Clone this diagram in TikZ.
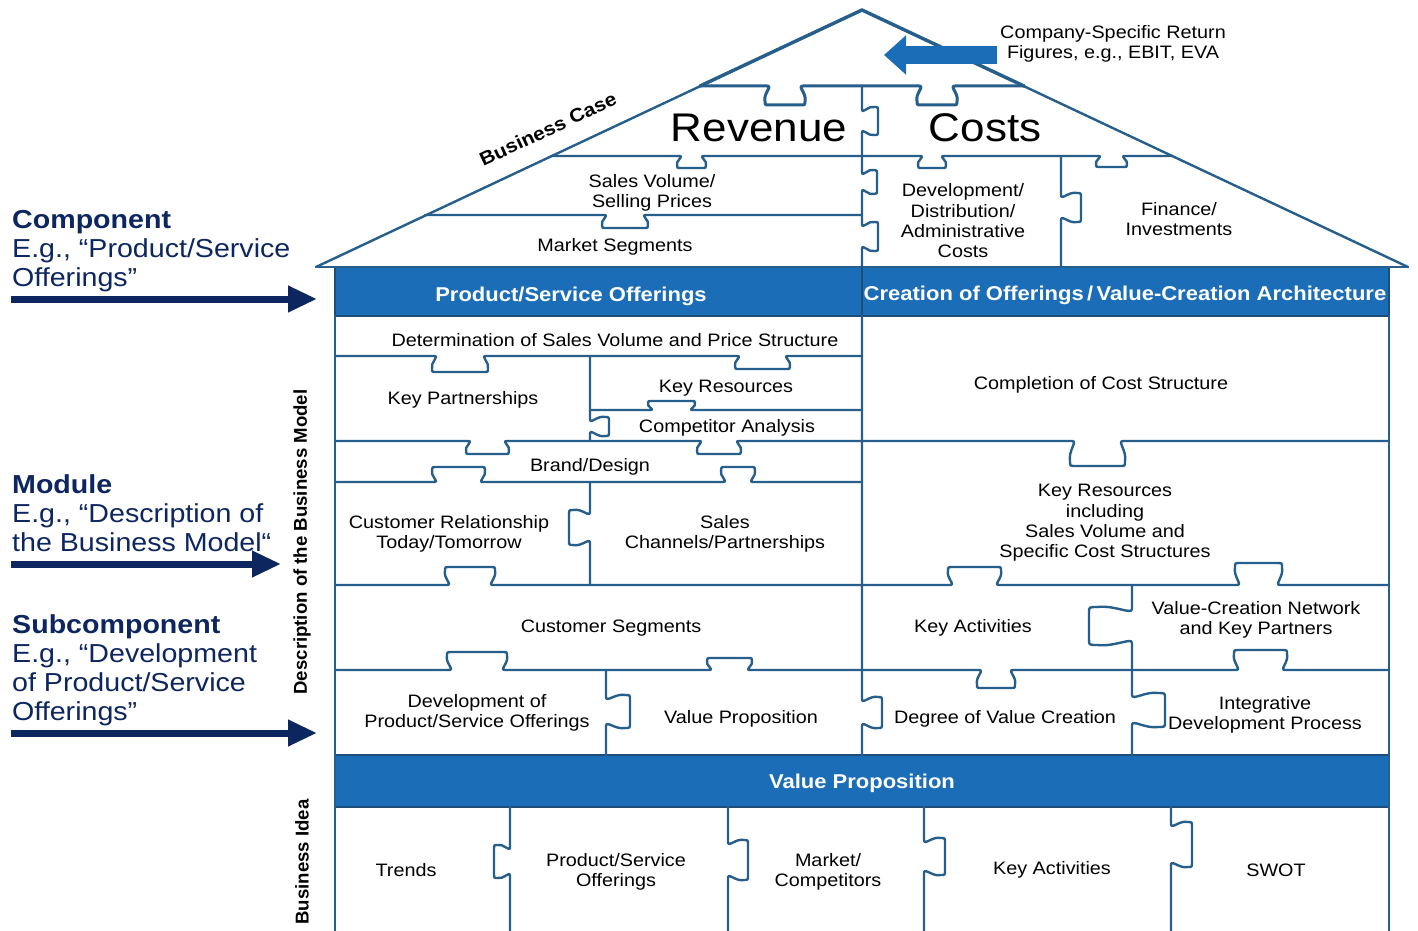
\documentclass[tikz,border=0pt]{standalone}
\usepackage{fontspec}
\setmainfont{Liberation Sans}[FakeStretch=1.1]
\newfontfamily\rotfont{Liberation Sans}
\usetikzlibrary{arrows.meta}
\definecolor{lineblue}{RGB}{38,94,140}
\definecolor{bandblue}{RGB}{26,109,182}
\definecolor{bandedge}{RGB}{30,78,120}
\definecolor{navy}{RGB}{13,38,96}
\newcommand\fN{\fontsize{18}{20.3}\selectfont}
\newcommand\fB{\fontsize{20}{22}\selectfont\bfseries}
\newcommand\fL{\fontsize{26}{29}\selectfont}
\newcommand\fH{\fontsize{40}{44}\selectfont}
% horizontal knob: from x=#1 to x=#2 on line y=#3, depth #4 (+ = down)
\newcommand\kh[4]{%
 -- ({#1+2},{#3})
 .. controls ({#1+8},{#3}) and ({#1-2},{#3+0.4*(#4)}) .. ({#1},{#3+0.8*(#4)})
 .. controls ({#1},{#3+(#4)}) .. ({#1+5},{#3+(#4)})
 -- ({#2-5},{#3+(#4)})
 .. controls ({#2},{#3+(#4)}) .. ({#2},{#3+0.8*(#4)})
 .. controls ({#2+2},{#3+0.4*(#4)}) and ({#2-8},{#3}) .. ({#2-2},{#3})}
% vertical knob: from y=#1 to y=#2 on line x=#3, extent #4 (+ = right)
\newcommand\kv[4]{%
 -- ({#3},{#1+2})
 .. controls ({#3},{#1+8}) and ({#3+0.4*(#4)},{#1-2}) .. ({#3+0.8*(#4)},{#1})
 .. controls ({#3+(#4)},{#1}) .. ({#3+(#4)},{#1+5})
 -- ({#3+(#4)},{#2-5})
 .. controls ({#3+(#4)},{#2}) .. ({#3+0.8*(#4)},{#2})
 .. controls ({#3+0.4*(#4)},{#2+2}) and ({#3},{#2-8}) .. ({#3},{#2-2})}
\begin{document}
\begin{tikzpicture}[x=1pt,y=-1pt,
  grid/.style={draw=lineblue, line width=2.4pt, line join=round, line cap=round},
  band/.style={fill=bandblue, draw=bandedge, line width=2pt},
  txt/.style={font=\fN, align=center, inner sep=0pt, text=black, yshift=-2pt},
  btxt/.style={font=\fB, text=white, inner sep=0pt, yshift=-2pt},
  lab/.style={font=\fL, text=navy, anchor=base west, inner sep=0pt},
  navyarrow/.style={draw=navy, line width=7pt, -{Triangle[length=29pt,width=25pt]}},
  bigarrow/.style={draw=bandblue, line width=18pt, -{Triangle[length=22pt,width=38pt]}}]
\useasboundingbox (0,0) rectangle (1418,931);
\fill[white] (0,0) rectangle (1418,931);

% bands
\path[band] (335,267) rectangle (1389,316);
\path[band] (335,755) rectangle (1389,807);

% roof
\draw[grid] (316,267) -- (862,10) -- (1408,267);
\draw[grid] (316,267) -- (1408,267);
\draw[grid, line width=3.4pt] (700,86) -- (862,10) -- (1024,86);
\draw[grid, line width=3pt] (700,86) \kh{765}{805}{86}{19} \kh{917}{957}{86}{19} -- (1024,86);
\draw[grid] (551,156) \kh{677}{706}{156}{12} \kh{918}{946}{156}{12} \kh{1096}{1127}{156}{11} -- (1173,156);
\draw[grid] (425,215) \kh{602}{648}{215}{13} -- (862,215);
\draw[grid] (1061,156) \kv{193}{222}{1061}{20} -- (1061,267);
\draw[grid] (862,86) \kv{107}{135}{862}{16} \kv{170}{194}{862}{15} \kv{222}{251}{862}{16} -- (862,267);

% band divider
\draw[grid, draw=bandedge] (862,267) -- (862,316);

% frame
\draw[grid] (335,316) -- (335,931);
\draw[grid] (1389,316) -- (1389,931);
\draw[grid] (862,316) \kv{697}{728}{862}{20} -- (862,755);

% left section
\draw[grid] (335,356) \kh{432}{488}{356}{16} \kh{735}{790}{356}{13} -- (862,356);
\draw[grid] (590,356) \kv{417}{436}{590}{19} -- (590,441);
\draw[grid] (590,410) \kh{648}{695}{410}{-9} -- (862,410);
\draw[grid] (335,441) \kh{466}{509}{441}{13} \kh{697}{741}{441}{13} -- (862,441) \kh{1070}{1125}{441}{25} -- (1389,441);
\draw[grid] (335,482) \kh{432}{485}{482}{-15} \kh{721}{755}{482}{-15} -- (862,482);
\draw[grid] (590,482) \kv{510}{545}{590}{-21} -- (590,585);
\draw[grid] (335,585) \kh{445}{495}{585}{-18} -- (862,585) \kh{948}{1001}{585}{-18} \kh{1235}{1282}{585}{-22} -- (1389,585);
\draw[grid] (335,670) \kh{447}{507}{670}{-18} \kh{707}{752}{670}{-12} -- (862,670) \kh{977}{1015}{670}{18} \kh{1234}{1287}{670}{-20} -- (1389,670);
\draw[grid] (606,670) \kv{695}{728}{606}{24} -- (606,755);
\draw[grid] (1132,585) \kv{607}{645}{1132}{-43} \kv{693}{727}{1132}{33} -- (1132,755);

% bottom section
\draw[grid] (510,807) \kv{845}{878}{510}{-16} -- (510,931);
\draw[grid] (728,807) \kv{840}{880}{728}{20} -- (728,931);
\draw[grid] (924,807) \kv{838}{875}{924}{21} -- (924,931);
\draw[grid] (1171,807) \kv{822}{867}{1171}{21} -- (1171,931);

% top arrow
\coordinate (ba1) at (997,55);
\coordinate (ba2) at (884,55);
\draw[bigarrow] (ba1) -- (ba2);
\node[txt] (csr) at (1113,42) {Company-Specific Return\\Figures, e.g., EBIT, EVA};

% roof texts
\node[inner sep=0pt, font={\fontsize{19}{21}\selectfont\bfseries}, rotate=25] (bc) at (548,129) {Business Case};
\node[txt, font=\fH] (rev) at (759,126) {Revenue};
\node[txt, font=\fH] (cst) at (985,126) {Costs};
\node[txt] (svsp) at (652,191) {Sales Volume/\\Selling Prices};
\node[txt] (ms) at (615,245) {Market Segments};
\node[txt] (dda) at (963,219) {Development/\\Distribution/\\Administrative\\Costs};
\node[txt] (fi) at (1179,217) {Finance/\\Investments};

% band texts
\node[btxt] (pso) at (571,294) {Product/Service Offerings};
\node[btxt] (coa) at (1125,293) {Creation of Offerings\,/\,Value-Creation Architecture};
\node[btxt] (vpb) at (862,781) {Value Proposition};

% left section texts
\node[txt] (dsv) at (615,338) {Determination of Sales Volume and Price Structure};
\node[txt] (kp) at (463,398) {Key Partnerships};
\node[txt] (kr) at (726,386) {Key Resources};
\node[txt] (ca) at (727,426) {Competitor Analysis};
\node[txt] (bd) at (590,465) {Brand/Design};
\node[txt] (crt) at (449,532) {Customer Relationship\\Today/Tomorrow};
\node[txt] (scp) at (725,532) {Sales\\Channels/Partnerships};
\node[txt] (cs) at (611,626) {Customer Segments};
\node[txt] (dpso) at (477,711) {Development of\\Product/Service Offerings};
\node[txt] (vp) at (741,717) {Value Proposition};

% right section texts
\node[txt] (ccs) at (1101,383) {Completion of Cost Structure};
\node[txt] (kri) at (1105,521) {Key Resources\\including\\Sales Volume and\\Specific Cost Structures};
\node[txt] (ka) at (973,626) {Key Activities};
\node[txt] (vcn) at (1256,618) {Value-Creation Network\\and Key Partners};
\node[txt] (dvc) at (1005,717) {Degree of Value Creation};
\node[txt] (idp) at (1265,713) {Integrative\\Development Process};

% bottom texts
\node[txt] (tr) at (406,868) {Trends};
\node[txt] (psob) at (616,870) {Product/Service\\Offerings};
\node[txt] (mc) at (828,870) {Market/\\Competitors};
\node[txt] (kab) at (1052,868) {Key Activities};
\node[txt] (sw) at (1276,868) {SWOT};

% rotated side texts
\node[inner sep=0pt, rotate=90, font={\rotfont\bfseries\fontsize{18.6}{20}\selectfont}] (dbm) at (302,542) {Description of the Business Model};
\node[inner sep=0pt, rotate=90, font={\rotfont\bfseries\fontsize{18.6}{20}\selectfont}] (bi) at (302,862) {Business Idea};

% left labels
\node[lab, font=\fL\bfseries] (c1) at (12,228) {Component};
\node[lab] (c2) at (12,257) {E.g., “Product/Service};
\node[lab] (c3) at (12,286) {Offerings”};
\node[lab, font=\fL\bfseries] (m1) at (12,493) {Module};
\node[lab] (m2) at (12,522) {E.g., “Description of};
\node[lab] (m3) at (12,551) {the Business Model“};
\node[lab, font=\fL\bfseries] (s1) at (12,633) {Subcomponent};
\node[lab] (s2) at (12,662) {E.g., “Development};
\node[lab] (s3) at (12,691) {of Product/Service};
\node[lab] (s4) at (12,720) {Offerings”};

\coordinate (a1s) at (11,299); \coordinate (a1e) at (317,299);
\coordinate (a2s) at (11,564); \coordinate (a2e) at (281,564);
\coordinate (a3s) at (11,733); \coordinate (a3e) at (317,733);
\draw[navyarrow] (a1s) -- (a1e);
\draw[navyarrow] (a2s) -- (a2e);
\draw[navyarrow] (a3s) -- (a3e);
\end{tikzpicture}
\end{document}
